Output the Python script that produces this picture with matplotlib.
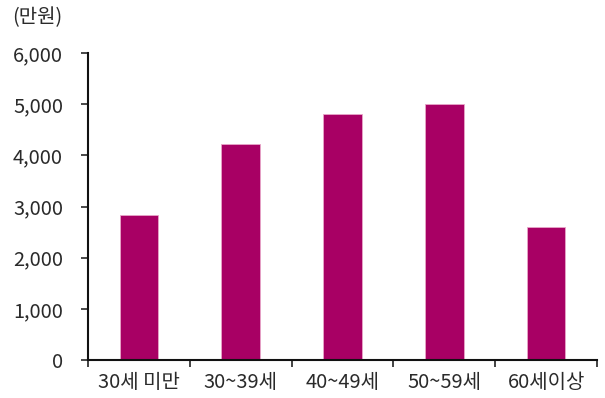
import matplotlib
matplotlib.use("Agg")
import matplotlib.pyplot as plt
from matplotlib.ticker import FuncFormatter

plt.rcParams['font.family'] = ['Noto Sans CJK KR', 'DejaVu Sans']

categories = ["30세 미만", "30~39세", "40~49세", "50~59세", "60세이상"]
values = [2830, 4220, 4800, 5000, 2600]
yticks = [0, 1000, 2000, 3000, 4000, 5000, 6000]

bar_color = "#A80064"
text_color = "#2a2a2a"
fs = 14.4

fig = plt.figure(figsize=(6.05, 3.98), dpi=100)
ax = fig.add_axes([88 / 605, 38 / 398, (597 - 88) / 605, (360 - 53) / 398])

x = list(range(len(categories)))
ax.bar(x, values, width=0.38, color=bar_color, edgecolor="#E8A6C8", linewidth=0.6)

ax.set_xlim(-0.5, len(categories) - 0.5)
ax.set_ylim(0, 6000)
ax.set_yticks(yticks)
ax.yaxis.set_major_formatter(FuncFormatter(lambda v, p: f"{int(v):,}"))

# category ticks sit on the boundaries between groups
ax.set_xticks([i - 0.5 for i in range(len(categories) + 1)], minor=False)
ax.set_xticklabels([])
ax.set_xticks(x, minor=True)
ax.set_xticklabels(categories, minor=True)
ax.tick_params(axis="x", which="minor", length=0, pad=9, labelsize=fs, colors=text_color)
ax.tick_params(axis="x", which="major", length=5, width=1.2, direction="out", color="#222222")
ax.tick_params(axis="y", length=5, width=1.2, pad=13, labelsize=fs, colors=text_color)
for lbl in ax.get_yticklabels() + ax.get_xticklabels(minor=True):
    lbl.set_fontweight("light")

for side in ("top", "right"):
    ax.spines[side].set_visible(False)
for side in ("left", "bottom"):
    ax.spines[side].set_linewidth(1.5)
    ax.spines[side].set_color("#111111")

fig.text(12 / 605, 1 - 18 / 398, "(만원)", fontsize=fs, fontweight="light",
         color=text_color, va="center", ha="left")

fig.savefig("out.png", dpi=100)
